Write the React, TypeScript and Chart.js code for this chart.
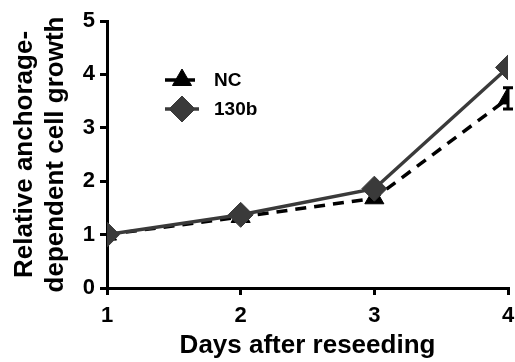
import React, { useEffect, useRef } from "react";
import { Chart, registerables } from "chart.js";
import { drawPoint } from "chart.js/helpers";

Chart.register(...registerables);

const days = [1, 2, 3, 4];
const ncValues = [1.0, 1.33, 1.68, 3.55];
const ncErrors = [0, 0, 0.04, 0.2];
const mirValues = [1.0, 1.37, 1.86, 4.13];
const mirErrors = [0, 0, 0, 0];
const seriesNames = ["NC", "130b"];
const xTitle = "Days after reseeding";
const yTitle = ["Relative anchorage-", "dependent cell growth"];
const yTicks = [0, 1, 2, 3, 4, 5];

const FONT = "'Liberation Sans', Arial, Helvetica, sans-serif";

const errorBarPlugin = {
  id: "errorBars",
  afterDatasetDraw(chart: any, args: any) {
    const ds: any = chart.data.datasets[args.index];
    const errs: number[] | undefined = ds.errors;
    if (!errs) return;
    const xs = chart.scales.x;
    const ys = chart.scales.y;
    const ctx = chart.ctx;
    ctx.save();
    ctx.strokeStyle = ds.borderColor;
    ctx.lineWidth = 3;
    ctx.setLineDash([]);
    ds.data.forEach((p: any, i: number) => {
      const e = errs[i];
      if (!e) return;
      const x = xs.getPixelForValue(p.x);
      const y1 = ys.getPixelForValue(p.y - e);
      const y2 = ys.getPixelForValue(p.y + e);
      ctx.beginPath();
      ctx.moveTo(x, y1);
      ctx.lineTo(x, y2);
      ctx.moveTo(x - 5, y1);
      ctx.lineTo(x + 5, y1);
      ctx.moveTo(x - 5, y2);
      ctx.lineTo(x + 5, y2);
      ctx.stroke();
    });
    ctx.restore();
  },
};

const legendPlugin = {
  id: "customLegend",
  afterDraw(chart: any) {
    const ctx = chart.ctx;
    const area = chart.chartArea;
    const x0 = area.left + 75;
    const y0 = area.top + 59;
    const gap = 29;
    chart.data.datasets.forEach((ds: any, i: number) => {
      const cy = y0 + i * gap;
      ctx.save();
      ctx.strokeStyle = ds.borderColor;
      ctx.lineWidth = ds.borderWidth;
      ctx.setLineDash(ds.borderDash || []);
      ctx.beginPath();
      ctx.moveTo(x0 - 17, cy);
      ctx.lineTo(x0 + 17, cy);
      ctx.stroke();
      ctx.restore();
      ctx.save();
      ctx.fillStyle = ds.pointBackgroundColor;
      ctx.strokeStyle = ds.pointBorderColor;
      drawPoint(
        ctx,
        { pointStyle: ds.pointStyle, rotation: 0, borderWidth: 1, radius: ds.legendRadius },
        x0,
        cy
      );
      ctx.restore();
      ctx.save();
      ctx.fillStyle = "#000";
      ctx.font = `bold 19px ${FONT}`;
      ctx.textBaseline = "middle";
      ctx.textAlign = "left";
      ctx.fillText(ds.label, x0 + 32, cy + 1);
      ctx.restore();
    });
  },
};

export default function App() {
  const ref = useRef<HTMLCanvasElement | null>(null);
  useEffect(() => {
    if (!ref.current) return;
    const chart = new Chart(ref.current, {
      type: "line",
      data: {
        datasets: [
          {
            label: seriesNames[0],
            data: days.map((d, i) => ({ x: d, y: ncValues[i] })),
            errors: ncErrors,
            borderColor: "#000",
            borderWidth: 3.5,
            borderDash: [11, 8],
            pointStyle: "triangle",
            pointRadius: 11,
            legendRadius: 11,
            pointBackgroundColor: "#000",
            pointBorderColor: "#000",
            pointBorderWidth: 1,
            order: 1,
          } as any,
          {
            label: seriesNames[1],
            data: days.map((d, i) => ({ x: d, y: mirValues[i] })),
            errors: mirErrors,
            borderColor: "#3a3a3a",
            borderWidth: 3.5,
            pointStyle: "rectRot",
            pointRadius: 12.5,
            legendRadius: 13,
            pointBackgroundColor: "#3a3a3a",
            pointBorderColor: "#3a3a3a",
            pointBorderWidth: 1,
            order: 0,
          } as any,
        ],
      },
      options: {
        responsive: false,
        animation: false,
        layout: { autoPadding: false, padding: { top: 21, right: 7, left: 0, bottom: 0 } },
        plugins: {
          legend: { display: false },
          tooltip: { enabled: false },
        },
        scales: {
          x: {
            type: "linear",
            min: 1,
            max: 4,
            afterFit(scale: any) {
              scale.paddingLeft = 0;
              scale.paddingRight = 0;
              scale.height = 74;
            },
            ticks: {
              stepSize: 1,
              padding: 8,
              color: "#000",
              font: { family: FONT, size: 22, weight: "bold" },
            },
            grid: {
              display: true,
              drawOnChartArea: false,
              drawTicks: true,
              tickLength: 7,
              color: "#000",
              lineWidth: 3,
            },
            border: { display: true, color: "#000", width: 3 },
            title: {
              display: true,
              text: xTitle,
              color: "#000",
              font: { family: FONT, size: 26, weight: "bold" },
              padding: { top: 0, bottom: 1 },
            },
          },
          y: {
            type: "linear",
            min: 0,
            max: 5,
            afterFit(scale: any) {
              scale.width = 107;
              scale.paddingTop = 0;
              scale.paddingBottom = 0;
            },
            afterBuildTicks(scale: any) {
              scale.ticks = yTicks.map((v) => ({ value: v }));
            },
            ticks: {
              padding: 5,
              color: "#000",
              font: { family: FONT, size: 22, weight: "bold" },
            },
            grid: {
              display: true,
              drawOnChartArea: false,
              drawTicks: true,
              tickLength: 7,
              color: "#000",
              lineWidth: 3,
            },
            border: { display: true, color: "#000", width: 3 },
            title: {
              display: true,
              text: yTitle,
              color: "#000",
              font: { family: FONT, size: 26, weight: "bold", lineHeight: 1.2 },
              padding: { top: 9, bottom: 0 },
            },
          },
        },
      },
      plugins: [errorBarPlugin, legendPlugin],
    } as any);
    return () => chart.destroy();
  }, []);
  return (
    <div style={{ position: "fixed", left: 0, top: 0, width: 515, height: 362, background: "#fff" }}>
      <canvas ref={ref} width={515} height={362} style={{ display: "block" }} />
    </div>
  );
}
